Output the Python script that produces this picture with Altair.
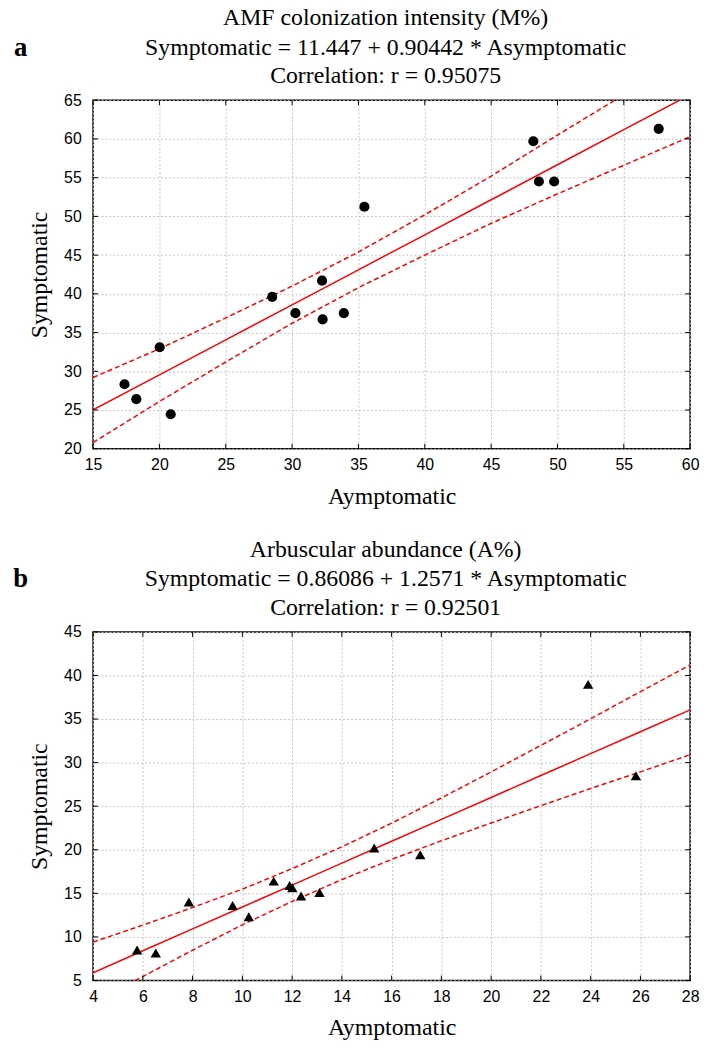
import altair as alt
import pandas as pd

# ---------------- Panel a : AMF colonization intensity (M%) ----------------
a_x = [17.37, 18.26, 20.02, 20.85, 28.5, 30.25, 32.26, 32.3, 33.9, 35.45, 48.18, 48.6, 49.75, 57.63]
a_y = [28.33, 26.4, 33.1, 24.45, 39.6, 37.5, 41.7, 36.7, 37.5, 51.24, 59.7, 54.5, 54.5, 61.3]
a_band_x = [15, 20, 25, 30, 35, 40, 45, 50, 55, 60]
a_upper = [29.2, 32.9, 36.9, 41.0, 45.4, 50.2, 55.2, 60.5, 65.7, 71.1]
a_lower = [20.8, 26.1, 31.2, 36.2, 40.8, 45.0, 49.1, 52.9, 56.6, 60.3]
a_intercept, a_slope = 11.447, 0.90442
a_xticks = [15, 20, 25, 30, 35, 40, 45, 50, 55, 60]
a_yticks = [20, 25, 30, 35, 40, 45, 50, 55, 60, 65]
a_title = ["AMF colonization intensity (M%)",
           "Symptomatic = 11.447 + 0.90442 * Asymptomatic",
           "Correlation:  r = 0.95075"]

# ---------------- Panel b : Arbuscular abundance (A%) ----------------
b_x = [5.77, 6.52, 7.85, 9.61, 10.26, 11.26, 11.9, 12.01, 12.36, 13.1, 15.3, 17.15, 23.9, 25.82]
b_y = [8.5, 8.14, 14.0, 13.6, 12.3, 16.4, 15.9, 15.65, 14.7, 15.1, 20.2, 19.43, 38.98, 28.5]
b_band_x = [4, 6, 8, 10, 12, 14, 16, 18, 20, 22, 24, 26, 28]
b_upper = [9.4, 11.35, 13.37, 15.48, 17.83, 20.34, 23.05, 25.95, 28.93, 31.98, 35.03, 38.14, 41.21]
b_lower = [2.4, 5.45, 8.47, 11.38, 14.07, 16.58, 18.89, 21.03, 23.07, 25.06, 27.03, 28.94, 30.91]
b_intercept, b_slope = 0.86086, 1.2571
b_xticks = [4, 6, 8, 10, 12, 14, 16, 18, 20, 22, 24, 26, 28]
b_yticks = [5, 10, 15, 20, 25, 30, 35, 40, 45]
b_title = ["Arbuscular abundance (A%)",
           "Symptomatic = 0.86086 + 1.2571 * Asymptomatic",
           "Correlation:  r = 0.92501"]

SERIF = "Liberation Serif"
SANS = "Liberation Sans"
RED = "#ff0000"
W, H = 603, 352
TK = 5  # inward tick length


def panel(px, py, bx, upper, lower, icpt, slope, xticks, yticks, title, letter, shape, msize):
    pts = pd.DataFrame({"x": px, "y": py})
    fit = pd.DataFrame({"x": bx, "y": [icpt + slope * v for v in bx]})
    band = pd.DataFrame({
        "x": bx + bx,
        "y": upper + lower,
        "side": ["upper"] * len(bx) + ["lower"] * len(bx),
    })
    xt = pd.DataFrame({"x": xticks})
    yt = pd.DataFrame({"y": yticks})
    xs = alt.Scale(domain=[xticks[0], xticks[-1]], nice=False, zero=False)
    ys = alt.Scale(domain=[yticks[0], yticks[-1]], nice=False, zero=False)
    xax = alt.Axis(values=xticks, title="Aymptomatic", titleFont=SERIF, titleFontSize=24,
                   titleFontWeight="normal", titleColor="black", labelFont=SANS,
                   labelFontSize=16, labelColor="black", grid=True, gridColor="#c4c4c4",
                   gridDash=[2, 2], domain=False, ticks=False, labelPadding=8,
                   titlePadding=12, labelFlush=False)
    yax = alt.Axis(values=yticks, title="Symptomatic", titleFont=SERIF, titleFontSize=24,
                   titleFontWeight="normal", titleColor="black", labelFont=SANS,
                   labelFontSize=16, labelColor="black", grid=True, gridColor="#c4c4c4",
                   gridDash=[2, 2], domain=False, ticks=False, labelPadding=12,
                   titlePadding=12, labelFlush=False)
    X = alt.X("x:Q", scale=xs, axis=xax)
    Y = alt.Y("y:Q", scale=ys, axis=yax)

    base_pts = alt.Chart(pts).mark_point(shape=shape, filled=True, color="black",
                                         size=msize, opacity=1).encode(x=X, y=Y)
    line = alt.Chart(fit).mark_line(color=RED, strokeWidth=1.5, clip=True).encode(x=X, y=Y)
    bands = alt.Chart(band).mark_line(color=RED, strokeWidth=1.5, strokeDash=[5, 3],
                                      clip=True).encode(x=X, y=Y, detail="side:N")
    tick_bot = alt.Chart(xt).mark_rule(color="black", strokeWidth=1).encode(
        x=X, y=alt.value(H), y2=alt.value(H - TK))
    tick_top = alt.Chart(xt).mark_rule(color="black", strokeWidth=1).encode(
        x=X, y=alt.value(0), y2=alt.value(TK))
    tick_left = alt.Chart(yt).mark_rule(color="black", strokeWidth=1).encode(
        y=Y, x=alt.value(0), x2=alt.value(TK))
    tick_right = alt.Chart(yt).mark_rule(color="black", strokeWidth=1).encode(
        y=Y, x=alt.value(W), x2=alt.value(W - TK))

    one = pd.DataFrame({"k": [0]})
    lab = alt.Chart(one).mark_text(
        text=letter, font=SERIF, fontSize=27, fontWeight="bold", color="black",
        align="center", baseline="middle").encode(x=alt.value(-73), y=alt.value(-53))
    tlayers = []
    for txt, yy in zip(title, [-83, -53, -24]):
        tlayers.append(alt.Chart(one).mark_text(
            text=txt, font=SERIF, fontSize=24, color="black", align="center",
            baseline="middle").encode(x=alt.value(W / 2 - 6), y=alt.value(yy)))
    return alt.layer(bands, line, base_pts, tick_bot, tick_top, tick_left, tick_right,
                     lab, *tlayers).properties(width=W, height=H)


top = panel(a_x, a_y, a_band_x, a_upper, a_lower, a_intercept, a_slope,
            a_xticks, a_yticks, a_title, "a", "circle", 105)
bottom = panel(b_x, b_y, b_band_x, b_upper, b_lower, b_intercept, b_slope,
               b_xticks, b_yticks, b_title, "b", "triangle-up", 110)

chart = alt.vconcat(top, bottom, spacing=28).properties(
    padding={"left": 12, "top": 0, "right": 5, "bottom": 0},
    background="white",
).configure_view(stroke="black", strokeWidth=1.5)

chart.save("out.html", embed_options={"renderer": "svg", "actions": False})
